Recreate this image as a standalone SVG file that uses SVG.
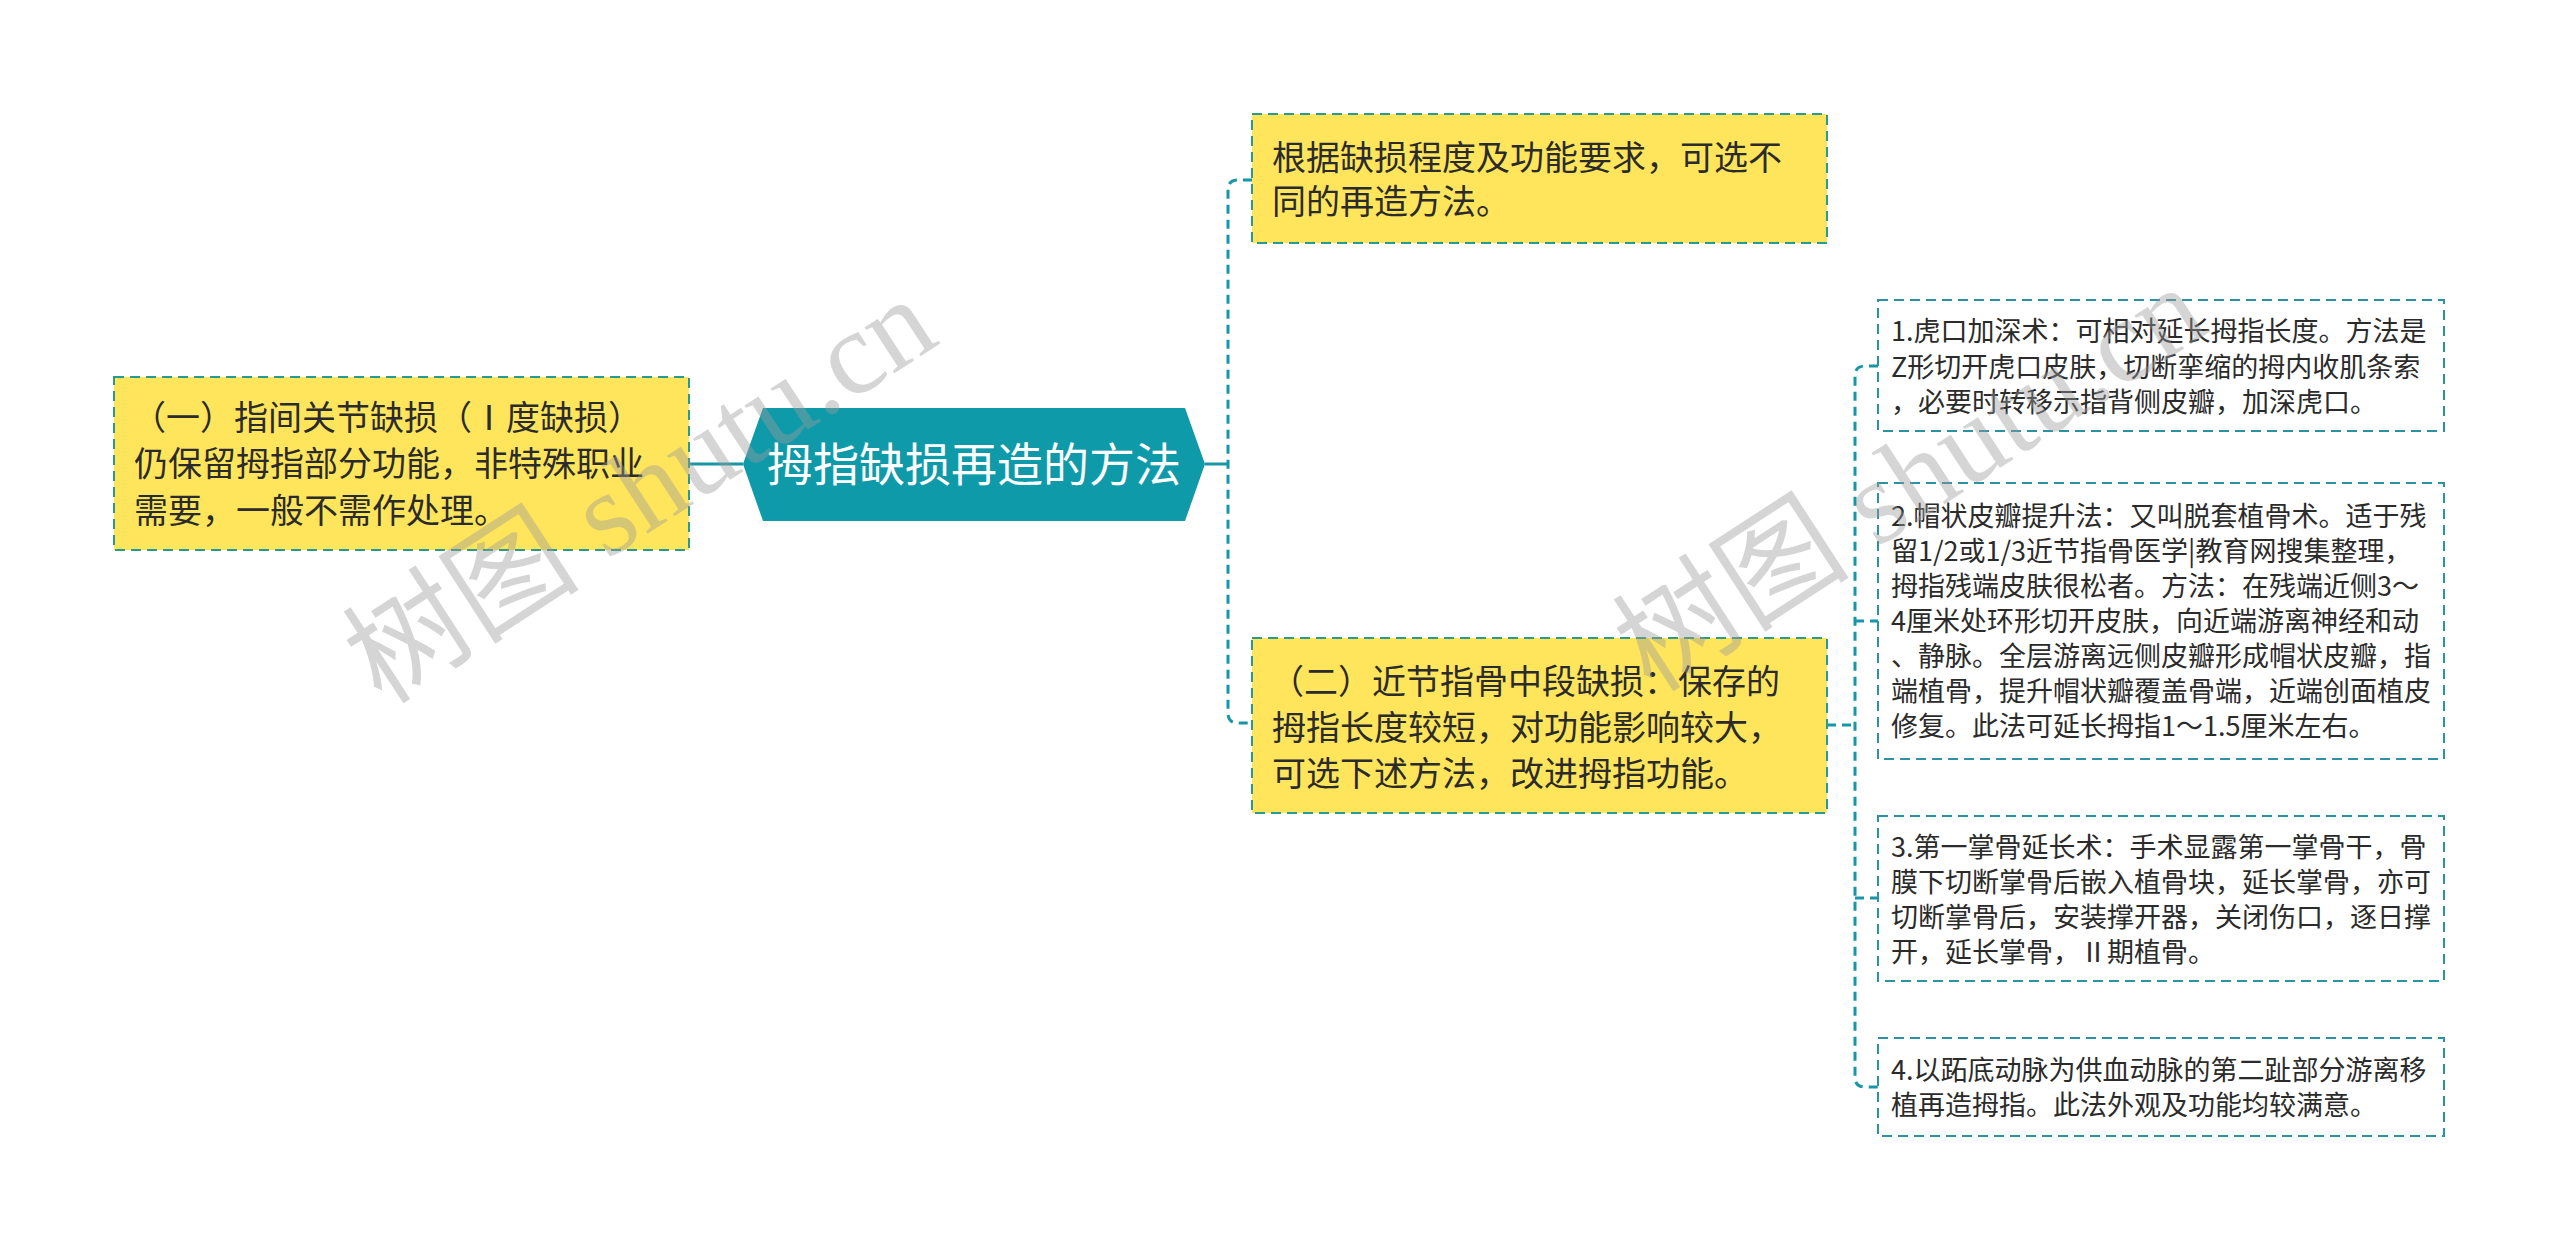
<svg xmlns="http://www.w3.org/2000/svg" width="2560" height="1253" viewBox="0 0 2560 1253">
<style>
.bg{fill:#ffffff}
.ybox{fill:#ffe55c;stroke:#2a9a8c;stroke-width:2;stroke-dasharray:10 6}
.wbox{fill:#ffffff;stroke:#2b92a3;stroke-width:2;stroke-dasharray:10 6}
.hub{fill:#0f9aaa}
.t{font-family:"Noto Sans CJK SC","Noto Sans",sans-serif;fill:#2b2b2b}
.big{font-size:34px}
.small{font-size:27px}
.hubt{font-family:"Noto Sans CJK SC","Noto Sans",sans-serif;font-size:46px;fill:#ffffff;text-anchor:middle}
.solid{fill:none;stroke:#1796a5;stroke-width:3}
.dash{fill:none;stroke:#1796a5;stroke-width:3;stroke-dasharray:9 6}
.wm{font-family:"Liberation Serif","Noto Sans CJK SC",serif;font-size:119px;fill:#9a9a9a;fill-opacity:0.42}
</style>
<rect class="bg" x="0" y="0" width="2560" height="1253"/>
<g id="connectors">
<path class="solid" d="M689,464 H743"/>
<path class="solid" d="M1205,464 H1228"/>
<path class="dash" d="M1252,180 H1238 Q1228,180 1228,190 V713 Q1228,723 1238,723 H1252"/>
<path class="dash" d="M1827,725 H1855"/>
<path class="dash" d="M1878,366 H1865 Q1855,366 1855,376 V1077 Q1855,1087 1865,1087 H1878"/>
<path class="dash" d="M1855,621 H1878"/>
<path class="dash" d="M1855,898 H1878"/>
</g>
<g id="root">
<polygon class="hub" points="743,464 763,408 1185,408 1205,464 1185,521 763,521"/>
<text class="hubt" x="974" y="481">拇指缺损再造的方法</text>
</g>
<g id="node-left">
<rect class="ybox" x="114" y="377" width="575" height="173"/>
<text class="t big" x="132" y="430">（一）指间关节缺损（Ⅰ度缺损）</text>
<text class="t big" x="134" y="476">仍保留拇指部分功能，非特殊职业</text>
<text class="t big" x="134" y="523">需要，一般不需作处理。</text>
</g>
<g id="node-top">
<rect class="ybox" x="1252" y="114" width="575" height="129"/>
<text class="t big" x="1272" y="170">根据缺损程度及功能要求，可选不</text>
<text class="t big" x="1272" y="214">同的再造方法。</text>
</g>
<g id="node-mid">
<rect class="ybox" x="1252" y="638" width="575" height="175"/>
<text class="t big" x="1270" y="694">（二）近节指骨中段缺损：保存的</text>
<text class="t big" x="1272" y="740">拇指长度较短，对功能影响较大，</text>
<text class="t big" x="1272" y="786">可选下述方法，改进拇指功能。</text>
</g>
<g id="node-1">
<rect class="wbox" x="1878" y="300" width="566" height="131"/>
<text class="t small" x="1891" y="341">1.虎口加深术：可相对延长拇指长度。方法是</text>
<text class="t small" x="1891" y="377">Z形切开虎口皮肤，切断挛缩的拇内收肌条索</text>
<text class="t small" x="1891" y="412">，必要时转移示指背侧皮瓣，加深虎口。</text>
</g>
<g id="node-2">
<rect class="wbox" x="1878" y="483" width="566" height="276"/>
<text class="t small" x="1891" y="526">2.帽状皮瓣提升法：又叫脱套植骨术。适于残</text>
<text class="t small" x="1891" y="561">留1/2或1/3近节指骨医学|教育网搜集整理，</text>
<text class="t small" x="1891" y="596">拇指残端皮肤很松者。方法：在残端近侧3～</text>
<text class="t small" x="1891" y="631">4厘米处环形切开皮肤，向近端游离神经和动</text>
<text class="t small" x="1891" y="666">、静脉。全层游离远侧皮瓣形成帽状皮瓣，指</text>
<text class="t small" x="1891" y="701">端植骨，提升帽状瓣覆盖骨端，近端创面植皮</text>
<text class="t small" x="1891" y="736">修复。此法可延长拇指1～1.5厘米左右。</text>
</g>
<g id="node-3">
<rect class="wbox" x="1878" y="816" width="566" height="165"/>
<text class="t small" x="1891" y="857">3.第一掌骨延长术：手术显露第一掌骨干，骨</text>
<text class="t small" x="1891" y="892">膜下切断掌骨后嵌入植骨块，延长掌骨，亦可</text>
<text class="t small" x="1891" y="927">切断掌骨后，安装撑开器，关闭伤口，逐日撑</text>
<text class="t small" x="1891" y="962">开，延长掌骨，Ⅱ期植骨。</text>
</g>
<g id="node-4">
<rect class="wbox" x="1878" y="1038" width="566" height="98"/>
<text class="t small" x="1891" y="1080">4.以跖底动脉为供血动脉的第二趾部分游离移</text>
<text class="t small" x="1891" y="1115">植再造拇指。此法外观及功能均较满意。</text>
</g>
<g id="watermark">
<text class="wm" x="382" y="706" transform="rotate(-33 382 706)">树图 shutu.cn</text>
<text class="wm" x="1652" y="694" transform="rotate(-33 1652 694)">树图 shutu.cn</text>
</g>
</svg>
